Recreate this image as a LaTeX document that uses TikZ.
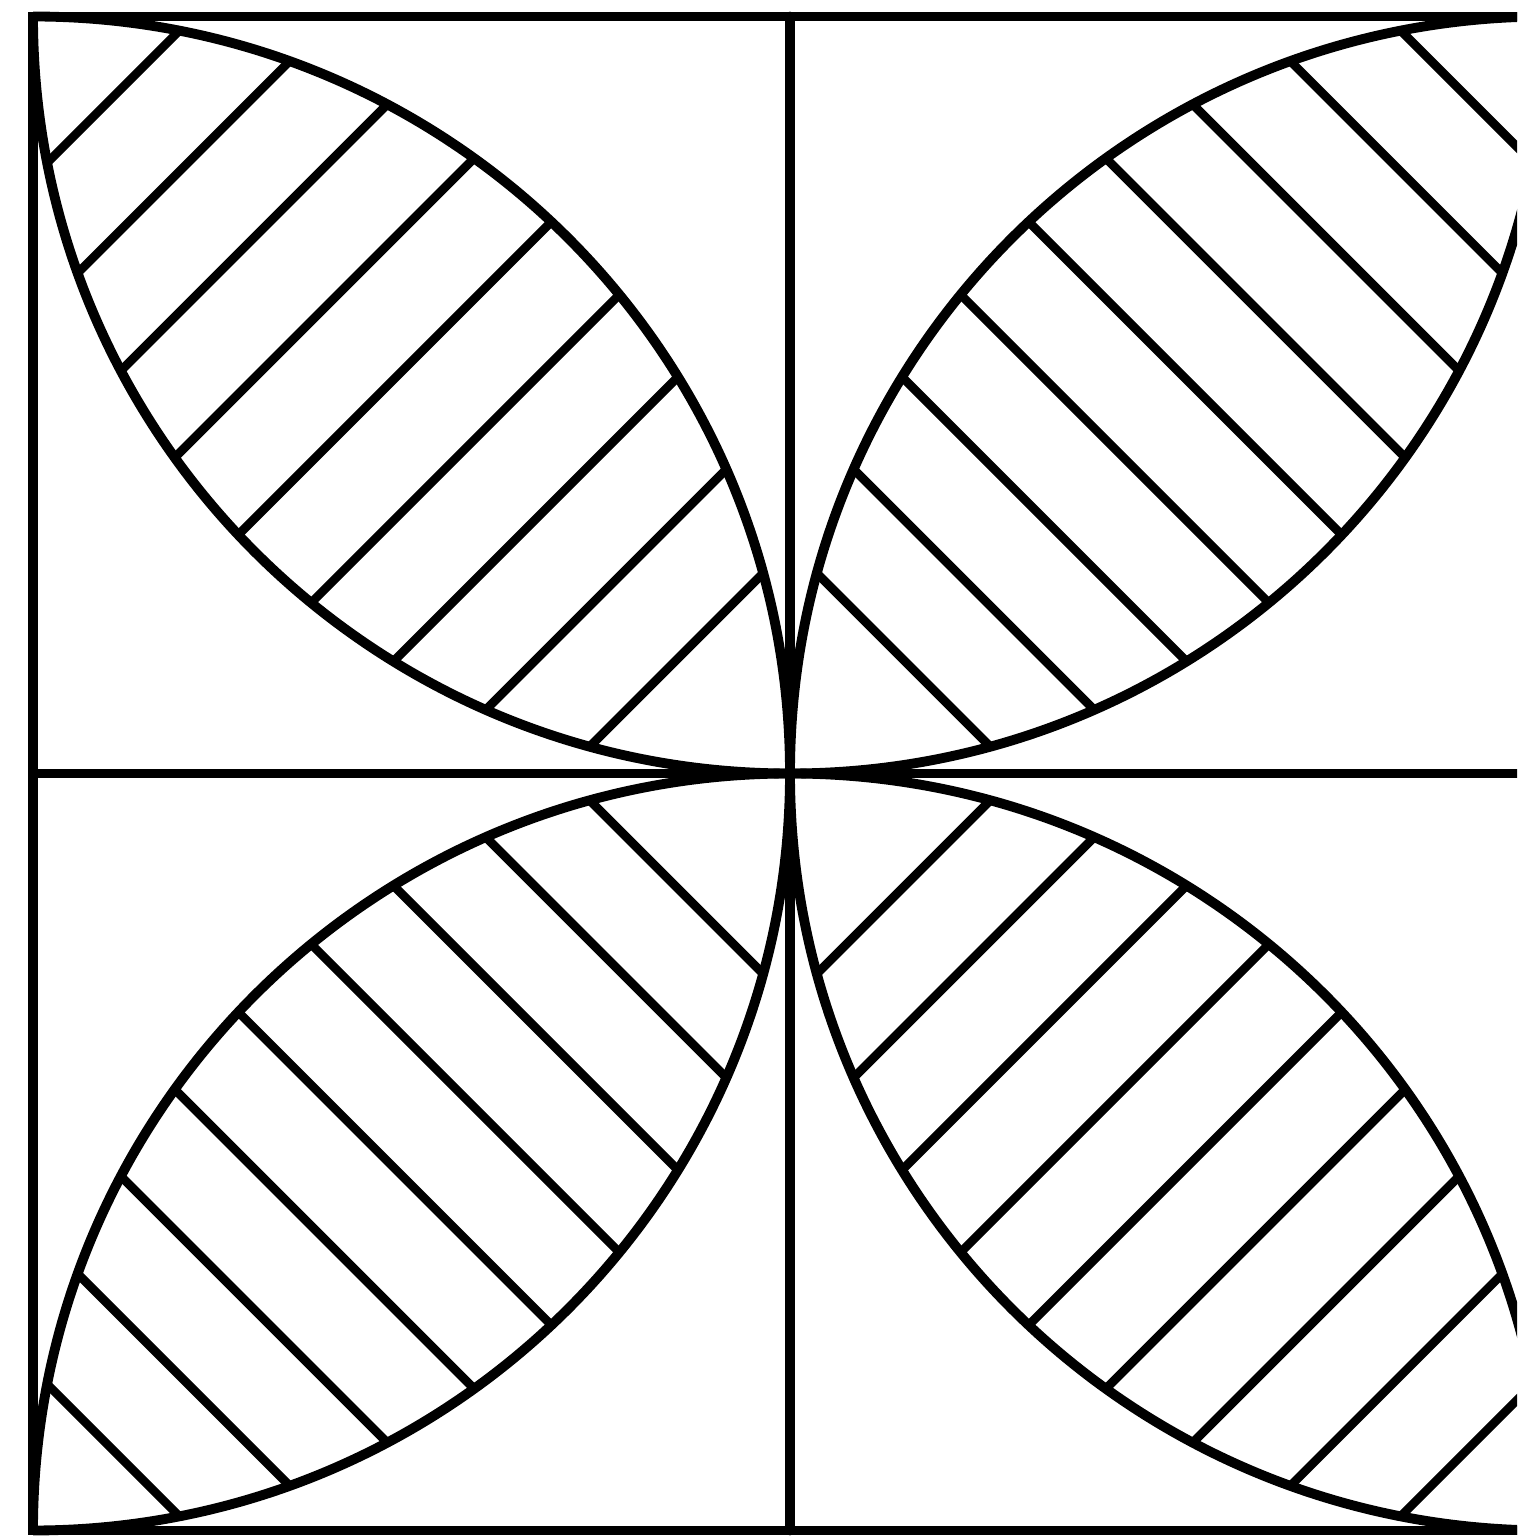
\documentclass[tikz,border=0pt]{standalone}

\begin{document}
\begin{tikzpicture}[
  frame/.style={line width=2.8pt, line cap=round},
  leaf/.style={line width=2.8pt},
  hatch/.style={line width=2.5pt}
]
\useasboundingbox (0,0) rectangle (15.17,15.38);
\clip (0,0) rectangle (15.17,15.38);
\def\side{7.57}
\coordinate (mid) at (7.90,7.645);
\coordinate (nw) at (0.33,15.215);
\coordinate (se) at (15.47,0.075);
\draw[frame] (nw) rectangle (se);
\draw[frame] (mid |- nw) -- (mid |- se);
\draw[frame] (mid -| nw) -- (mid -| se);
% four leaves, one per quadrant
\foreach \ang in {0,90,180,270} {
  \begin{scope}[shift={(mid)}, rotate=\ang]
    \draw[leaf] (-\side,\side) arc[start angle=90, end angle=0, radius=\side];
    \draw[leaf] (-\side,\side) arc[start angle=180, end angle=270, radius=\side];
    \begin{scope}
      \clip (-\side,0) circle (\side);
      \clip (0,\side) circle (\side);
      \foreach \k in {0,...,8} {
        \pgfmathsetmacro\u{\side*(0.106+0.093*\k-1)}
        \draw[hatch] ({\u-3},{-\u-3}) -- ({\u+3},{-\u+3});
      }
    \end{scope}
  \end{scope}
}
\end{tikzpicture}
\end{document}
